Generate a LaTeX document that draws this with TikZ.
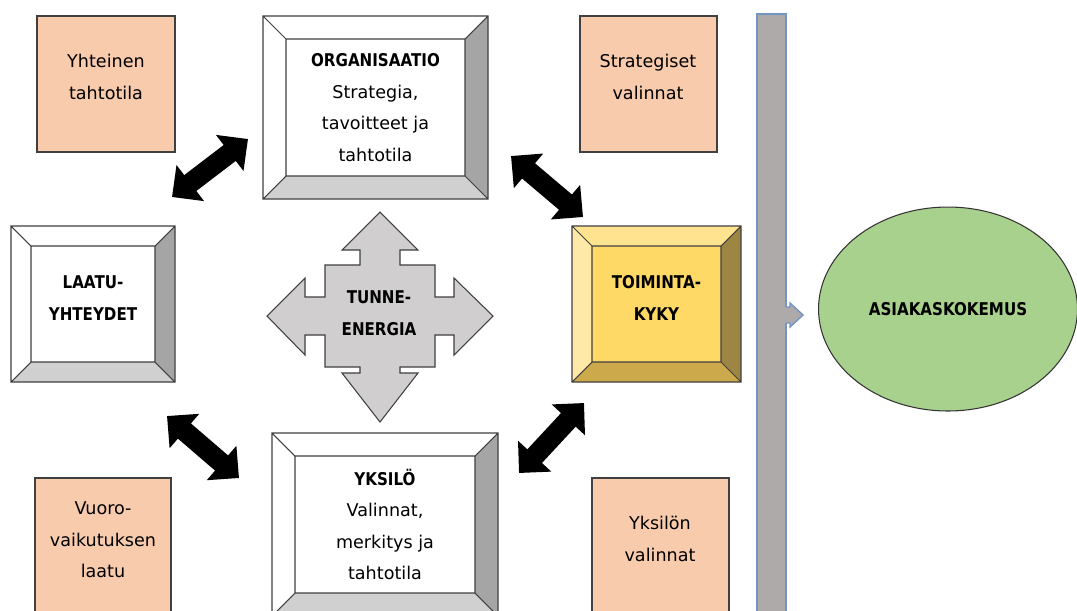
\documentclass[tikz,border=0pt]{standalone}
\usepackage{fontspec}
\setmainfont{DejaVu Sans}[BoldFeatures={FakeStretch=0.86}]
\usetikzlibrary{arrows.meta,shapes.geometric}

\definecolor{peach}{HTML}{F8CBAD}
\definecolor{crossgray}{HTML}{D0CECE}
\definecolor{bargray}{HTML}{AEAAAA}
\definecolor{barblue}{HTML}{7394C4}
\definecolor{leafgreen}{HTML}{A9D18E}
% bevel colours: g = grey boxes, y = yellow box
\colorlet{gtop}{white}
\colorlet{gleft}{white}
\definecolor{gright}{HTML}{A5A5A5}
\definecolor{gbottom}{HTML}{D0D0D0}
\colorlet{gmid}{white}
\definecolor{ytop}{HTML}{FFE38F}
\definecolor{yleft}{HTML}{FFE9A8}
\definecolor{yright}{HTML}{9D8543}
\definecolor{ybottom}{HTML}{CCAA4C}
\definecolor{ymid}{HTML}{FFD966}

% #1 colour set, #2 name, (#3,#4)-(#5,#6) outer corners, #7 bevel, #8 text, #9 text shift
\newcommand{\bevelbox}[9]{%
  \fill[#1top] (#3,#4) -- (#5,#4) -- (#5-#7,#4+#7) -- (#3+#7,#4+#7) -- cycle;
  \fill[#1left] (#3,#4) -- (#3+#7,#4+#7) -- (#3+#7,#6-#7) -- (#3,#6) -- cycle;
  \fill[#1right] (#5,#4) -- (#5,#6) -- (#5-#7,#6-#7) -- (#5-#7,#4+#7) -- cycle;
  \fill[#1bottom] (#3,#6) -- (#3+#7,#6-#7) -- (#5-#7,#6-#7) -- (#5,#6) -- cycle;
  \fill[#1mid] (#3+#7,#4+#7) rectangle (#5-#7,#6-#7);
  \draw[edge] (#3,#4) rectangle (#5,#6) (#3+#7,#4+#7) rectangle (#5-#7,#6-#7)
    (#3,#4) -- ++(#7,#7) (#5,#4) -- ++(-#7,#7) (#5,#6) -- ++(-#7,-#7) (#3,#6) -- ++(#7,-#7);
  \node[boxtext] (#2) at ({(#3+#5)/2},{(#4+#6)/2+#9}) {#8};
}

\begin{document}
\begin{tikzpicture}[x=0.02cm, y=-0.02cm,
    edge/.style={draw=black!75, line width=0.6pt},
    boxtext/.style={align=center, font=\fontsize{10}{18}\selectfont},
    head/.style={boxtext, font=\bfseries\fontsize{10}{18}\selectfont},
    note/.style={fill=peach, draw=black!75, line width=0.6pt},
    dblarrow/.style={line width=0.4cm,
      {Triangle[length=0.46cm,width=0.88cm]}-{Triangle[length=0.46cm,width=0.88cm]}}]
    \fill[white] (0,0) rectangle (1077,610);
    \path[use as bounding box, clip] (0,0) rectangle (1077,610);

    % side notes
    \draw[note] (37,16) rectangle (175,152);
    \node[boxtext] (yhteinen) at (106,77) {Yhteinen\\tahtotila};
    \draw[note] (580,16) rectangle (717,152);
    \node[boxtext] (strategiset) at (648,77) {Strategiset\\valinnat};
    \draw[note] (35,478) rectangle (171,640);
    \node[boxtext] (vuoro) at (103,540) {Vuoro-\\vaikutuksen\\laatu};
    \draw[note] (592,478) rectangle (729,640);
    \node[boxtext] (yksvalinnat) at (660,539) {Yksilön\\valinnat};

    % the four bevelled boxes
    \bevelbox{g}{org}{263}{16}{488}{199}{23}{\textbf{ORGANISAATIO}\\Strategia,\\tavoitteet ja\\tahtotila}{0}
    \bevelbox{g}{laatu}{11}{226}{175}{382}{20}{\textbf{LAATU-}\\\textbf{YHTEYDET}}{-6}
    \bevelbox{y}{kyky}{572}{226}{741}{382}{20}{\textbf{TOIMINTA-}\\\textbf{KYKY}}{-6}
    \bevelbox{g}{yksilo}{272}{433}{498}{616}{23}{\textbf{YKSILÖ}\\Valinnat,\\merkitys ja\\tahtotila}{0}

    % four-way arrow in the middle
    \draw[fill=crossgray, edge] (380,212) -- (418,250) -- (400,250) -- (400,265) -- (435,265)
      -- (435,297) -- (454,297) -- (454,278) -- (493,316) -- (454,355) -- (454,335) -- (435,335)
      -- (435,367) -- (400,367) -- (400,373) -- (418,373) -- (380,422) -- (342,373) -- (360,373)
      -- (360,367) -- (325,367) -- (325,335) -- (305,335) -- (305,355) -- (267,316) -- (305,278)
      -- (305,297) -- (325,297) -- (325,265) -- (360,265) -- (360,250) -- (342,250) -- cycle;
    \node[head] (tunne) at (379,313) {TUNNE-\\ENERGIA};

    % double arrows between the boxes
    \coordinate (a1) at (172,197); \coordinate (b1) at (248,139);
    \coordinate (a2) at (511,156); \coordinate (b2) at (583,217);
    \coordinate (a3) at (167,416); \coordinate (b3) at (239,478);
    \coordinate (a4) at (519,473); \coordinate (b4) at (584,403);
    \foreach \i in {1,...,4} \draw[dblarrow] (a\i) -- (b\i);

    % bar with its small arrow
    \draw[fill=bargray, draw=barblue, line width=0.8pt] (757,14) rectangle (786,640);
    \fill[bargray] (785,307) -- (790,307) -- (790,303) -- (803,315) -- (790,327) -- (790,323) -- (785,323) -- cycle;
    \draw[barblue, line width=0.8pt] (786,307) -- (790,307) -- (790,303) -- (803,315) -- (790,327) -- (790,323) -- (786,323);

    \node[ellipse, fill=leafgreen, draw=black!80, line width=0.6pt, minimum width=5.18cm,
      minimum height=4.08cm, head] (asiakas) at (948,309) {ASIAKASKOKEMUS};
\end{tikzpicture}
\end{document}
